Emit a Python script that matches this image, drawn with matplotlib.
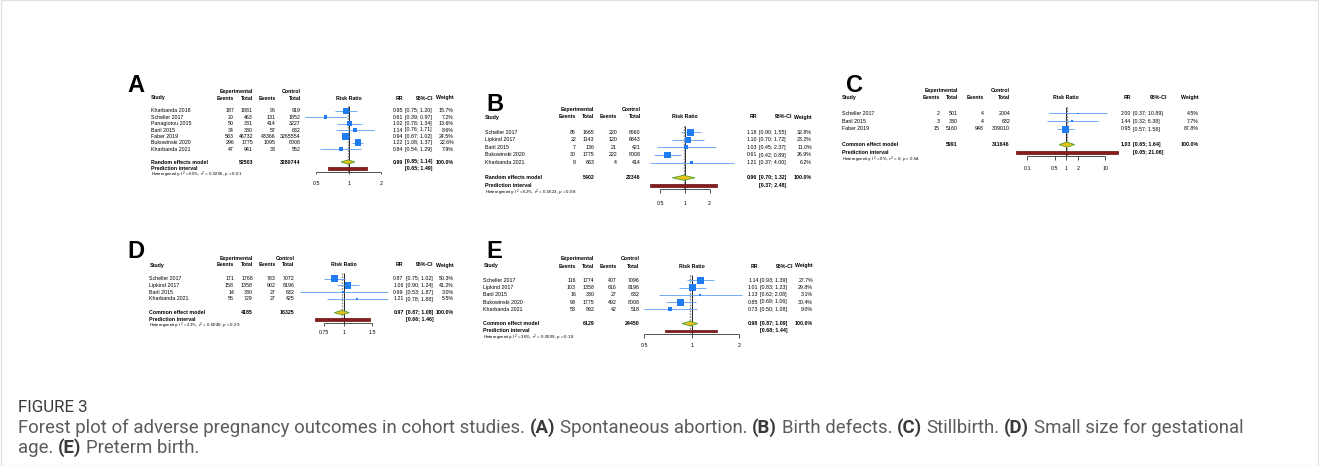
import numpy as np
import matplotlib
matplotlib.use("Agg")
import matplotlib.pyplot as plt
from matplotlib import transforms as mtransforms
from matplotlib import font_manager
from matplotlib.patches import Rectangle

W, H = 1319, 466

# (A) spontaneous abortion
a_study = ["Kharbanda 2018", "Scheller 2017", "Panagiotou 2015", "Baril 2015",
           "Faber 2019", "Bukowinski 2020", "Kharbanda 2021"]
a_ev_exp = [187, 20, 50, 34, 583, 296, 47]
a_n_exp = [1881, 463, 381, 330, 46732, 1775, 941]
a_ev_ctl = [96, 131, 414, 57, 43366, 1095, 33]
a_n_ctl = [919, 1852, 3227, 632, 3265554, 8008, 552]
a_rr = [0.95, 0.61, 1.02, 1.14, 0.94, 1.22, 0.84]
a_lo = [0.75, 0.39, 0.78, 0.76, 0.87, 1.08, 0.54]
a_hi = [1.20, 0.97, 1.34, 1.71, 1.02, 1.37, 1.29]
a_wt = [15.7, 7.2, 13.6, 8.6, 24.5, 22.6, 7.9]
a_pooled = [0.99, 0.85, 1.14]
a_pred = [0.65, 1.49]
a_het = ["65%", "0.0205", "< 0.01"]
a_ticks = [0.5, 1, 2]

# (B) birth defects
b_study = ["Scheller 2017", "Lipkind 2017", "Baril 2015", "Bukowinski 2020", "Kharbanda 2021"]
b_ev_exp = [65, 22, 7, 30, 8]
b_n_exp = [1665, 1143, 136, 1775, 683]
b_ev_ctl = [220, 120, 21, 222, 4]
b_n_ctl = [6660, 6843, 421, 8008, 414]
b_rr = [1.18, 1.10, 1.03, 0.61, 1.21]
b_lo = [0.90, 0.70, 0.45, 0.42, 0.37]
b_hi = [1.55, 1.72, 2.37, 0.89, 4.00]
b_wt = [32.8, 23.2, 11.0, 26.9, 6.2]
b_pooled = [0.96, 0.70, 1.32]
b_pred = [0.37, 2.48]
b_het = ["62%", "0.0623", "= 0.08"]
b_ticks = [0.5, 1, 2]

# (C) stillbirth
c_study = ["Scheller 2017", "Baril 2015", "Faber 2019"]
c_ev_exp = [2, 3, 15]
c_n_exp = [501, 330, 5160]
c_ev_ctl = [4, 4, 948]
c_n_ctl = [2004, 632, 309010]
c_rr = [2.00, 1.44, 0.95]
c_lo = [0.37, 0.32, 0.57]
c_hi = [10.89, 6.38, 1.58]
c_wt = [4.5, 7.7, 87.8]
c_pooled = [1.03, 0.65, 1.64]
c_pred = [0.05, 21.06]
c_het = ["0%", "0", "= 0.64"]
c_ticks = [0.1, 0.5, 1, 2, 10]

# (D) small size for gestational age
d_study = ["Scheller 2017", "Lipkind 2017", "Baril 2015", "Kharbanda 2021"]
d_ev_exp = [171, 158, 14, 56]
d_n_exp = [1768, 1358, 330, 729]
d_ev_ctl = [783, 902, 27, 27]
d_n_ctl = [7072, 8196, 632, 425]
d_rr = [0.87, 1.06, 0.99, 1.21]
d_lo = [0.75, 0.90, 0.53, 0.78]
d_hi = [1.02, 1.24, 1.87, 1.88]
d_wt = [50.3, 41.2, 3.0, 5.5]
d_pooled = [0.97, 0.87, 1.08]
d_pred = [0.66, 1.46]
d_het = ["21%", "0.0040", "= 0.29"]
d_ticks = [0.75, 1, 1.5]

# (E) preterm birth
e_study = ["Scheller 2017", "Lipkind 2017", "Baril 2015", "Bukowinski 2020", "Kharbanda 2021"]
e_ev_exp = [116, 103, 16, 93, 53]
e_n_exp = [1774, 1358, 330, 1775, 892]
e_ev_ctl = [407, 616, 27, 492, 42]
e_n_ctl = [7096, 8196, 632, 8008, 518]
e_rr = [1.14, 1.01, 1.13, 0.85, 0.73]
e_lo = [0.93, 0.83, 0.62, 0.69, 0.50]
e_hi = [1.39, 1.23, 2.08, 1.06, 1.08]
e_wt = [27.7, 29.8, 3.1, 30.4, 9.0]
e_pooled = [0.98, 0.87, 1.09]
e_pred = [0.68, 1.44]
e_het = ["36%", "0.0099", "= 0.18"]
e_ticks = [0.5, 1, 2]

SQ = "#1f7cf2"
CI_COL = "#5b9ef5"
FS = 3.75

plt.rcParams["font.family"] = ["Liberation Sans", "DejaVu Sans"]
plt.rcParams["mathtext.fontset"] = "custom"
plt.rcParams["mathtext.rm"] = "Liberation Sans"
plt.rcParams["mathtext.it"] = "Liberation Sans:italic"
plt.rcParams["mathtext.bf"] = "Liberation Sans:bold"

fig = plt.figure(figsize=(W / 100, H / 100), dpi=100)
fig.patch.set_facecolor("white")
px_x = mtransforms.Affine2D().scale(1 / W, 1) + fig.transFigure


def fmt_ci(lo, hi):
    return f"[{lo:.2f}; {hi:.2f}]"


def forest(letter, lay, study, ev_e, n_e, ev_c, n_c, rr, lo, hi, wt,
           pooled, pred, het, ticks, model):
    n = len(study)
    first, dy = lay["first"], lay["dy"]
    top_px = first - 4.5 * dy
    bot_px = first + (n + 5) * dy
    left_px, right_px = lay["study"] - 5, lay["w_r"] + 5
    ax = fig.add_axes([left_px / W, 1 - bot_px / H,
                       (right_px - left_px) / W, (bot_px - top_px) / H])
    ax.set_xscale("log")
    ax.set_xlim(np.exp((left_px - lay["x1"]) / lay["k"]),
                np.exp((right_px - lay["x1"]) / lay["k"]))
    ax.set_ylim((bot_px - first) / dy, (top_px - first) / dy)
    ax.axis("off")
    tx = mtransforms.blended_transform_factory(px_x, ax.transData)

    def put(x, row, s, ha="right", bold=False, size=FS):
        ax.text(x, row, s, transform=tx, ha=ha, va="center", fontsize=size,
                fontweight="bold" if bold else "normal", clip_on=False)

    # column headers
    put(lay["tot_e"], -3, "Experimental", bold=True)
    put(lay["tot_c"], -3, "Control", bold=True)
    put(lay["study"], -2, "Study", ha="left", bold=True)
    put(lay["ev_e"], -2, "Events", bold=True)
    put(lay["tot_e"], -2, "Total", bold=True)
    put(lay["ev_c"], -2, "Events", bold=True)
    put(lay["tot_c"], -2, "Total", bold=True)
    put(lay["x1"], -2, "Risk Ratio", ha="center", bold=True)
    put(lay["rr_r"], -2, "RR", bold=True)
    put(lay["ci_r"], -2, "95%-CI", bold=True)
    put(lay["w_r"], -2, "Weight", bold=True)

    # study rows
    for i in range(n):
        put(lay["study"], i, study[i], ha="left")
        put(lay["ev_e"], i, str(ev_e[i]))
        put(lay["tot_e"], i, str(n_e[i]))
        put(lay["ev_c"], i, str(ev_c[i]))
        put(lay["tot_c"], i, str(n_c[i]))
        put(lay["rr_r"], i, f"{rr[i]:.2f}")
        put(lay["ci_l"], i, fmt_ci(lo[i], hi[i]), ha="left")
        put(lay["w_r"], i, f"{wt[i]:.1f}%")

    # pooled estimate and prediction interval
    s = n + 1
    put(lay["study"], s, model, ha="left", bold=True)
    put(lay["tot_e"], s, str(sum(n_e)), bold=True)
    put(lay["tot_c"], s, str(sum(n_c)), bold=True)
    put(lay["rr_r"], s, f"{pooled[0]:.2f}", bold=True)
    put(lay["ci_l"], s, fmt_ci(pooled[1], pooled[2]), ha="left", bold=True)
    put(lay["w_r"], s, "100.0%", bold=True)
    put(lay["study"], s + 1, "Prediction interval", ha="left", bold=True)
    put(lay["ci_l"], s + 1, fmt_ci(pred[0], pred[1]), ha="left", bold=True)
    put(lay["study"], s + 2,
        rf"Heterogeneity: $I^2$ = {het[0]}, $\tau^2$ = {het[1]}, $p$ {het[2]}",
        ha="left", size=3.2)

    # reference lines
    axis_row = n + 2.5
    ax.vlines(1, -0.8, axis_row, color="black", lw=0.6, zorder=1)
    ax.vlines(pooled[0], -0.8, axis_row, color="#8a8a8a", lw=1.0,
              linestyles=(0, (1.2, 0.9)), zorder=1)

    # study estimates
    rows = np.arange(n)
    ax.hlines(rows, lo, hi, color=CI_COL, lw=0.6, zorder=2, clip_on=False)
    wt_arr = np.array(wt)
    side_pt = 7 * np.sqrt(wt_arr / wt_arr.max()) * 0.72
    ax.scatter(rr, rows, marker="s", s=side_pt ** 2, color=SQ,
               linewidths=0, zorder=3, clip_on=False)

    # summary diamond
    h = 0.33
    ax.fill([pooled[1], pooled[0], pooled[2], pooled[0]],
            [s, s - h, s, s + h], facecolor="#e9c21a", edgecolor="#4f9e2e",
            lw=0.6, zorder=4)
    # prediction interval bar
    hb = 0.18
    ax.fill([pred[0], pred[1], pred[1], pred[0]],
            [s + 1 - hb, s + 1 - hb, s + 1 + hb, s + 1 + hb],
            facecolor="#8e1b1b", edgecolor="#5b1010", lw=0.5, zorder=4,
            clip_on=False)

    # x axis
    ax.hlines(axis_row, ticks[0], ticks[-1], color="#333333", lw=0.6)
    ax.vlines(ticks, axis_row, axis_row + 0.45, color="#333333", lw=0.6)
    for t in ticks:
        ax.text(t, n + lay["lab"], f"{t:g}", ha="center", va="center",
                fontsize=FS)

    fig.text(lay["letter"][0] / W, 1 - lay["letter"][1] / H, letter,
             fontsize=17, fontweight="bold", ha="left", va="baseline")


lay_a = dict(study=150.7, ev_e=234, tot_e=253, ev_c=275.7, tot_c=300.7,
             x1=348.7, k=46.9, rr_r=403, ci_l=405, ci_r=433, w_r=454,
             first=110.8, dy=6.4, lab=4.3, letter=(127, 92))
lay_b = dict(study=485, ev_e=576, tot_e=594.3, ev_c=617, tot_c=640.7,
             x1=685, k=35.5, rr_r=757, ci_l=759, ci_r=792, w_r=812,
             first=132.2, dy=7.6, lab=4.4, letter=(486, 111))
lay_c = dict(study=841.7, ev_e=940, tot_e=957.7, ev_c=984, tot_c=1010,
             x1=1066.3, k=16.9, rr_r=1131, ci_l=1133, ci_r=1167, w_r=1199,
             first=113.4, dy=7.8, lab=4.0, letter=(846, 92))
lay_d = dict(study=149.3, ev_e=234, tot_e=253, ev_c=275.7, tot_c=294.3,
             x1=344, k=69.7, rr_r=403.5, ci_l=405.5, ci_r=433, w_r=454,
             first=278.6, dy=6.8, lab=4.0, letter=(127, 258))
lay_e = dict(study=483.3, ev_e=576, tot_e=594.3, ev_c=616.7, tot_c=639.3,
             x1=691.7, k=68.8, rr_r=758.5, ci_l=760.5, ci_r=793, w_r=813,
             first=280.4, dy=7.2, lab=4.0, letter=(486, 258))

forest("A", lay_a, a_study, a_ev_exp, a_n_exp, a_ev_ctl, a_n_ctl, a_rr, a_lo,
       a_hi, a_wt, a_pooled, a_pred, a_het, a_ticks, "Random effects model")
forest("B", lay_b, b_study, b_ev_exp, b_n_exp, b_ev_ctl, b_n_ctl, b_rr, b_lo,
       b_hi, b_wt, b_pooled, b_pred, b_het, b_ticks, "Random effects model")
forest("C", lay_c, c_study, c_ev_exp, c_n_exp, c_ev_ctl, c_n_ctl, c_rr, c_lo,
       c_hi, c_wt, c_pooled, c_pred, c_het, c_ticks, "Common effect model")
forest("D", lay_d, d_study, d_ev_exp, d_n_exp, d_ev_ctl, d_n_ctl, d_rr, d_lo,
       d_hi, d_wt, d_pooled, d_pred, d_het, d_ticks, "Common effect model")
forest("E", lay_e, e_study, e_ev_exp, e_n_exp, e_ev_ctl, e_n_ctl, e_rr, e_lo,
       e_hi, e_wt, e_pooled, e_pred, e_het, e_ticks, "Common effect model")

# caption block
names = {f.name for f in font_manager.fontManager.ttflist}
cap_font = "Liberation Sans Narrow" if "Liberation Sans Narrow" in names else "Roboto"
renderer = fig.canvas.get_renderer()

line1 = [("Forest plot of adverse pregnancy outcomes in cohort studies.", False),
         ("(A)", True), ("Spontaneous abortion.", False), ("(B)", True),
         ("Birth defects.", False), ("(C)", True), ("Stillbirth.", False),
         ("(D)", True), ("Small size for gestational", False)]
line2 = [("age.", False), ("(E)", True), ("Preterm birth.", False)]


def rich_line(parts, x, y, size):
    objs = []
    probe = fig.text(0, 0, "a a", fontsize=size, family=cap_font)
    probe2 = fig.text(0, 0, "aa", fontsize=size, family=cap_font)
    gap = (probe.get_window_extent(renderer).width
           - probe2.get_window_extent(renderer).width)
    probe.remove()
    probe2.remove()
    cur = x
    for txt, bold in parts:
        t = fig.text(cur / W, 1 - y / H, txt, fontsize=size, family=cap_font,
                     fontweight="bold" if bold else "normal",
                     color="#3a3a3a" if bold else "#5c5c5c", va="center")
        objs.append(t)
        cur += t.get_window_extent(renderer).width + gap
    return objs, cur - gap - x


objs, width = rich_line(line1, 18, 428, 10)
for o in objs:
    o.remove()
cap_size = 10 * 1232 / width
rich_line(line1, 18, 428, cap_size)
rich_line(line2, 18, 448, cap_size)

fig_label = fig.text(18 / W, 1 - 407 / H, "FIGURE 3", fontsize=10,
                     family=cap_font, color="#3a3a3a", va="center")
fig_label.set_fontsize(10 * 70 / fig_label.get_window_extent(renderer).width)

fig.add_artist(Rectangle((0.0005, 0.001), 0.999, 0.998, transform=fig.transFigure,
                         fill=False, edgecolor="#e2e2e2", lw=1.0))

fig.savefig("out.png", dpi=100, facecolor="white")
